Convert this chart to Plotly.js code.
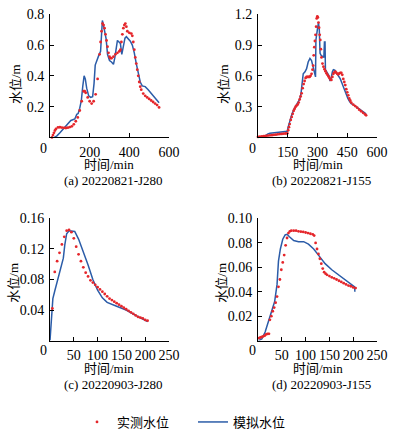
<!DOCTYPE html>
<html><head><meta charset="utf-8">
<script src="https://cdn.plot.ly/plotly-3.0.1.min.js"></script>
<style>html,body{margin:0;padding:0;background:#fff}#c{width:394px;height:437px}</style>
</head><body><div id="c"></div>
<script>
// ---- data ----
const A_obs_t = [10,15,20,25,30,40,50,60,70,80,90,100,110,120,130,140,150,160,170,175,180,190,200,210,220,230,240,250,255,260,265,270,275,280,285,290,295,300,305,310,320,330,340,350,355,360,365,370,375,380,385,390,400,410,415,420,425,430,435,440,445,450,455,460,470,480,490,500,510,520,530,540,550];
const A_obs_v = [0.0,0.015,0.03,0.045,0.055,0.065,0.066,0.064,0.062,0.061,0.063,0.067,0.072,0.085,0.105,0.13,0.175,0.235,0.30,0.30,0.29,0.26,0.235,0.22,0.235,0.28,0.38,0.54,0.62,0.69,0.74,0.73,0.71,0.67,0.63,0.59,0.55,0.525,0.515,0.515,0.525,0.54,0.55,0.56,0.57,0.62,0.67,0.71,0.73,0.74,0.72,0.69,0.68,0.675,0.66,0.62,0.57,0.52,0.48,0.44,0.40,0.36,0.33,0.31,0.285,0.27,0.26,0.25,0.24,0.23,0.22,0.21,0.195];
const A_sim_t = [22,35,50,65,80,95,105,115,125,135,142,150,158,165,172,178,185,195,205,215,222,228,235,245,255,260,264,268,275,283,290,300,310,320,327,333,340,348,355,362,370,378,385,395,405,415,425,435,445,455,465,480,495,510,525,540,550];
const A_sim_v = [0,0.01,0.03,0.05,0.07,0.09,0.11,0.115,0.12,0.15,0.155,0.19,0.24,0.33,0.40,0.38,0.32,0.27,0.26,0.265,0.35,0.47,0.50,0.53,0.56,0.70,0.76,0.74,0.70,0.64,0.54,0.50,0.49,0.475,0.52,0.58,0.63,0.62,0.61,0.54,0.60,0.645,0.655,0.64,0.625,0.60,0.55,0.48,0.41,0.36,0.335,0.33,0.31,0.285,0.26,0.24,0.225];

const B_obs_t = [0,10,20,30,40,50,60,70,80,90,100,110,120,130,140,148,152,156,160,165,170,175,180,185,190,195,200,205,210,215,220,225,230,235,240,245,250,255,260,265,270,275,278,281,284,287,290,293,296,299,302,305,308,311,314,317,320,325,330,335,340,345,350,355,360,365,370,375,380,385,390,395,400,405,410,415,420,425,430,435,440,445,450,455,460,465,470,480,490,500,510,520,530,540,545];
const B_obs_v = [0.005,0.008,0.01,0.012,0.015,0.018,0.02,0.022,0.025,0.027,0.03,0.032,0.034,0.036,0.038,0.04,0.07,0.10,0.13,0.17,0.20,0.23,0.26,0.28,0.30,0.31,0.32,0.34,0.37,0.40,0.43,0.48,0.52,0.55,0.58,0.59,0.59,0.59,0.59,0.60,0.62,0.66,0.70,0.80,0.88,0.94,1.0,1.08,1.16,1.18,1.17,1.12,1.07,1.0,0.95,0.86,0.78,0.72,0.69,0.665,0.645,0.625,0.61,0.595,0.58,0.565,0.56,0.59,0.62,0.635,0.64,0.63,0.62,0.615,0.625,0.63,0.63,0.61,0.57,0.54,0.51,0.47,0.44,0.41,0.38,0.36,0.34,0.32,0.305,0.29,0.27,0.255,0.24,0.225,0.215];
const B_sim_t = [30,40,50,60,80,100,120,140,148,152,160,170,180,190,200,210,217,222,228,237,245,253,262,270,276,282,287,290,292,295,300,305,309,313,318,325,332,335,338,340,345,352,358,363,368,375,380,387,395,405,415,423,430,437,445,453,462,470,480,495,510,525,540,545];
const B_sim_v = [0.005,0.02,0.035,0.04,0.045,0.05,0.055,0.058,0.06,0.10,0.16,0.22,0.27,0.31,0.34,0.37,0.43,0.52,0.62,0.64,0.67,0.735,0.77,0.75,0.70,0.67,0.64,0.59,0.95,1.02,1.06,1.12,1.05,0.82,0.80,0.79,0.78,0.93,0.93,0.66,0.64,0.62,0.60,0.55,0.57,0.64,0.66,0.655,0.63,0.60,0.57,0.53,0.49,0.45,0.41,0.38,0.35,0.33,0.32,0.30,0.28,0.26,0.24,0.23];

const C_obs_t = [5,10,15,20,25,30,35,40,45,50,55,60,65,70,75,80,85,90,95,100,105,110,115,120,125,130,135,140,145,150,155,160,165,170,175,180,185,190,195,200,205];
const C_obs_v = [0.042,0.09,0.104,0.115,0.126,0.136,0.144,0.145,0.142,0.134,0.123,0.113,0.104,0.096,0.089,0.084,0.079,0.076,0.073,0.070,0.067,0.064,0.061,0.058,0.055,0.053,0.051,0.049,0.047,0.045,0.043,0.041,0.039,0.037,0.035,0.033,0.031,0.030,0.029,0.027,0.026];
const C_sim_t = [0,3,6,10,15,20,25,28,31,35,40,52,60,70,80,90,100,110,120,140,160,180,200,205];
const C_sim_v = [0,0.03,0.055,0.065,0.078,0.09,0.10,0.108,0.125,0.140,0.144,0.143,0.133,0.117,0.099,0.080,0.066,0.056,0.050,0.045,0.040,0.033,0.027,0.025];

const D_obs_t = [2,5,8,11,14,17,20,23,25,28,31,34,37,40,43,46,49,52,55,58,61,64,67,70,75,80,85,90,95,100,105,110,115,118,121,124,127,130,133,136,139,142,145,150,155,160,165,170,175,180,185,190,195,200,205];
const D_obs_v = [0.002,0.0025,0.003,0.0035,0.004,0.005,0.0055,0.0055,0.017,0.02,0.024,0.027,0.031,0.036,0.044,0.05,0.058,0.064,0.07,0.078,0.084,0.088,0.0895,0.09,0.09,0.09,0.0895,0.0892,0.089,0.0885,0.088,0.0875,0.087,0.086,0.08,0.075,0.071,0.067,0.063,0.059,0.056,0.0548,0.0538,0.0528,0.0518,0.051,0.050,0.049,0.048,0.047,0.046,0.045,0.0445,0.0435,0.043];
const D_sim_t = [1,8,15,19,24,29,35,40,43,47,52,57,61,66,75,85,96,106,117,127,141,155,169,183,197,203,203.5];
const D_sim_v = [0,0.0013,0.007,0.012,0.019,0.024,0.032,0.046,0.065,0.075,0.083,0.0865,0.087,0.085,0.082,0.081,0.081,0.079,0.075,0.070,0.063,0.058,0.054,0.050,0.046,0.044,0.040];

const obsName = '实测水位', simName = '模拟水位';
const xTicksTop = [200,400,600], xTicksTopB = [150,300,450,600], xTicksBot = [50,100,150,200,250];
const yTicksA = [0.2,0.4,0.6,0.8], yTicksB = [0.3,0.6,0.9,1.2];
const yTicksC = [0.04,0.08,0.12,0.16], yTicksD = [0.02,0.04,0.06,0.08,0.10];
const yTickTextD = ['0.02','0.04','0.06','0.08','0.10'];
const captions = ['(a) 20220821-J280','(b) 20220821-J155','(c) 20220903-J280','(d) 20220903-J155'];

// ---- layout helpers ----
const W = 394, H = 437;
const fx = p => p / W, fy = p => 1 - p / H;
const RED = '#e5262b', BLUE = '#2b5ca8';
const serif = 'Liberation Serif';
const cjk = '"Liberation Serif", "Noto Sans CJK SC"';

function axis(dom, range, tv, anchor, tt) {
  const a = {domain: dom, range: range, tickvals: tv, ticks: 'inside', ticklen: 4, tickwidth: 1,
    tickcolor: '#000', showline: true, linecolor: '#000', linewidth: 1, showgrid: false, zeroline: false,
    tickfont: {family: serif, size: 14, color: '#000'}, anchor: anchor, ticklabelstandoff: 2, fixedrange: true};
  if (tt) a.ticktext = tt;
  return a;
}
const xL = [fx(50), fx(169)], xR = [fx(258), fx(377)];
const yT = [fy(139), fy(14.5)], yB = [fy(344.5), fy(221)];

function obs(t, v, xa, ya, show) {
  return {x: t, y: v, xaxis: xa, yaxis: ya, type: 'scatter', mode: 'markers', name: obsName,
    marker: {color: RED, size: 2.8}, showlegend: show, legend: 'legend', cliponaxis: false};
}
function sim(t, v, xa, ya, show) {
  return {x: t, y: v, xaxis: xa, yaxis: ya, type: 'scatter', mode: 'lines', name: simName,
    line: {color: BLUE, width: 1.5}, showlegend: show, legend: 'legend2'};
}
const data = [
  sim(A_sim_t, A_sim_v, 'x', 'y', true), obs(A_obs_t, A_obs_v, 'x', 'y', true),
  sim(B_sim_t, B_sim_v, 'x2', 'y2', false), obs(B_obs_t, B_obs_v, 'x2', 'y2', false),
  sim(C_sim_t, C_sim_v, 'x3', 'y3', false), obs(C_obs_t, C_obs_v, 'x3', 'y3', false),
  sim(D_sim_t, D_sim_v, 'x4', 'y4', false), obs(D_obs_t, D_obs_v, 'x4', 'y4', false)
];

function ann(text, x, y, size, angle) {
  return {text: text, x: fx(x), y: fy(y), xref: 'paper', yref: 'paper', xanchor: 'center', yanchor: 'middle',
    showarrow: false, textangle: angle || 0, font: {family: cjk, size: size || 13, color: '#000'}};
}
const annotations = [
  ann('水位/m', 15, 85, 13, -90), ann('水位/m', 223, 85, 13, -90),
  ann('水位/m', 14, 286, 13, -90), ann('水位/m', 222, 286, 13, -90),
  ann('时间/min', 109.5, 166), ann('时间/min', 318, 166),
  ann('时间/min', 109.5, 372.5), ann('时间/min', 318, 372.5),
  ann(captions[0], 113, 182.5), ann(captions[1], 321, 182.5),
  ann(captions[2], 113, 389), ann(captions[3], 321, 389),
  ann('0', 43, 150, 14), ann('0', 252, 150, 14), ann('0', 43, 355, 14), ann('0', 252, 355, 14)
];

const layout = {
  width: W, height: H, margin: {l: 0, r: 0, t: 0, b: 0}, paper_bgcolor: '#fff', plot_bgcolor: '#fff',
  xaxis: axis(xL, [0, 600], xTicksTop, 'y'), yaxis: axis(yT, [0, 0.8], yTicksA, 'x'),
  xaxis2: axis(xR, [0, 600], xTicksTopB, 'y2'), yaxis2: axis(yT, [0, 1.2], yTicksB, 'x2'),
  xaxis3: axis(xL, [0, 250], xTicksBot, 'y3'), yaxis3: axis(yB, [0, 0.16], yTicksC, 'x3'),
  xaxis4: axis(xR, [0, 250], xTicksBot, 'y4'), yaxis4: axis(yB, [0, 0.10], yTicksD, 'x4', yTickTextD),
  showlegend: true,
  legend: {x: fx(77), y: fy(427), xanchor: 'left', yanchor: 'middle', orientation: 'h', bgcolor: 'rgba(0,0,0,0)',
    font: {family: cjk, size: 13, color: '#000'}},
  legend2: {x: fx(193), y: fy(427), xanchor: 'left', yanchor: 'middle', orientation: 'h', bgcolor: 'rgba(0,0,0,0)',
    font: {family: cjk, size: 13, color: '#000'}},
  annotations: annotations
};
Plotly.newPlot('c', data, layout, {displayModeBar: false, staticPlot: true});
</script></body></html>
